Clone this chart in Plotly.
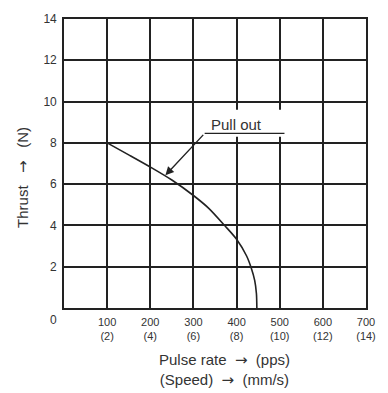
import plotly.graph_objects as go

# Pull-out curve (pulse rate pps vs thrust N)
pulse_rate = [100, 150, 200, 250, 300, 335, 373, 400, 423, 434, 442, 446, 447]
thrust = [8.0, 7.42, 6.83, 6.2, 5.45, 4.84, 3.98, 3.33, 2.53, 1.94, 1.34, 0.7, 0.0]

x_ticks = [100, 200, 300, 400, 500, 600, 700]
x_tick_text = ["100<br>(2)", "200<br>(4)", "300<br>(6)", "400<br>(8)", "500<br>(10)", "600<br>(12)", "700<br>(14)"]
y_ticks = [2, 4, 6, 8, 10, 12, 14]

# annotation geometry (data coords)
arrow_tip = (235, 6.43)
elbow = (326, 8.46)
leader_end = (511, 8.46)
label_pos = (399, 8.88)
gap_box = (345, 520, 8.3, 9.6)

INK = "#222222"
TXT = "#333333"
FONT = "Liberation Sans, Arial, sans-serif"
ARW = '<span style="font-family:DejaVu Sans">\u2192</span>'

fig = go.Figure()
fig.add_trace(go.Scatter(
    x=pulse_rate, y=thrust, mode="lines",
    line=dict(color=INK, width=1.6, shape="spline", smoothing=0.8),
    showlegend=False, hoverinfo="skip",
))

# white patch behind the label (grid gap), then leader line on top
fig.add_shape(type="rect", xref="x", yref="y", x0=gap_box[0], x1=gap_box[1],
              y0=gap_box[2], y1=gap_box[3],
              fillcolor="white", line=dict(width=0), layer="above")
fig.add_shape(type="line", xref="x", yref="y", x0=elbow[0], y0=elbow[1],
              x1=leader_end[0], y1=leader_end[1],
              line=dict(color=INK, width=1.4), layer="above")

fig.add_annotation(
    x=arrow_tip[0], y=arrow_tip[1], ax=elbow[0], ay=elbow[1],
    xref="x", yref="y", axref="x", ayref="y",
    showarrow=True, arrowhead=2, arrowsize=1.2, arrowwidth=1.4, arrowcolor=INK, text="",
)
fig.add_annotation(
    x=label_pos[0], y=label_pos[1], xref="x", yref="y", text="Pull out",
    showarrow=False, font=dict(family=FONT, size=15, color=TXT),
)
# origin label
fig.add_annotation(
    x=0, y=0, xref="x", yref="y", text="0", showarrow=False,
    xshift=-11, yshift=-12, font=dict(family=FONT, size=12, color=TXT),
)
# y axis title
fig.add_annotation(
    x=0, y=6.3, xref="x", yref="y", text=f"Thrust   {ARW}   (N)", textangle=-90,
    showarrow=False, xshift=-41, font=dict(family=FONT, size=15, color=TXT),
)
# x axis title (two lines)
fig.add_annotation(
    x=0.531, y=-0.213, xref="paper", yref="paper", xanchor="center", yanchor="middle",
    text=f"Pulse rate  {ARW}  (pps)<br>(Speed)  {ARW}  (mm/s)",
    showarrow=False, font=dict(family=FONT, size=15, color=TXT),
)

fig.update_xaxes(
    range=[0, 700], tickvals=x_ticks, ticktext=x_tick_text,
    showgrid=True, gridcolor=INK, gridwidth=1.5,
    showline=True, linecolor=INK, linewidth=1.6, mirror=True,
    zeroline=False, ticks="", ticklabelstandoff=3,
    tickfont=dict(family=FONT, size=11, color=TXT),
)
fig.update_yaxes(
    range=[0, 14], tickvals=y_ticks,
    showgrid=True, gridcolor=INK, gridwidth=1.5,
    showline=True, linecolor=INK, linewidth=1.6, mirror=True,
    zeroline=False, ticks="", ticklabelstandoff=3,
    tickfont=dict(family=FONT, size=12, color=TXT),
)
fig.update_layout(
    width=388, height=393,
    margin=dict(l=64, r=19, t=15, b=85),
    plot_bgcolor="white", paper_bgcolor="white",
)
fig.write_html("out.html")
